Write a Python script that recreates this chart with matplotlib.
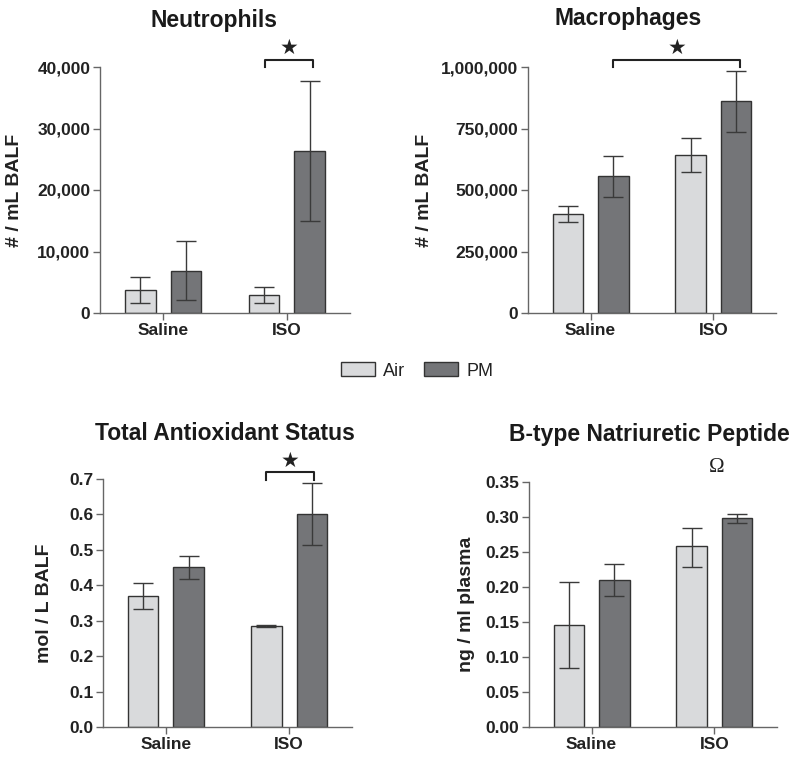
import matplotlib
matplotlib.use("Agg")
import matplotlib.pyplot as plt
from matplotlib.patches import Patch
from matplotlib.ticker import StrMethodFormatter

plt.rcParams['font.family'] = ['Liberation Sans', 'DejaVu Sans']

#------------- DATA -------------#
groups = ["Saline", "ISO"]
series = ["Air", "PM"]

neut_air = [3800, 3000]
neut_air_lo = [1700, 1600]
neut_air_hi = [5800, 4200]
neut_pm = [6900, 26400]
neut_pm_lo = [2100, 15000]
neut_pm_hi = [11700, 37700]

macro_air = [403000, 643000]
macro_air_lo = [370000, 575000]
macro_air_hi = [435000, 710000]
macro_pm = [555000, 860000]
macro_pm_lo = [470000, 735000]
macro_pm_hi = [640000, 985000]

tas_air = [0.370, 0.285]
tas_air_lo = [0.333, 0.283]
tas_air_hi = [0.407, 0.287]
tas_pm = [0.451, 0.602]
tas_pm_lo = [0.418, 0.515]
tas_pm_hi = [0.482, 0.688]

bnp_air = [0.146, 0.258]
bnp_air_lo = [0.085, 0.229]
bnp_air_hi = [0.207, 0.285]
bnp_pm = [0.210, 0.298]
bnp_pm_lo = [0.187, 0.292]
bnp_pm_hi = [0.233, 0.304]

AIR_C = "#d9dadc"
PM_C = "#747578"
EDGE = "#333333"
SPINE = "#666666"

W, H = 800, 760
fig = plt.figure(figsize=(8, 7.6), dpi=100)


def px_axes(left, right, bottom, top):
    return fig.add_axes([left / W, 1 - bottom / H, (right - left) / W, (bottom - top) / H])


def draw_panel(ax, air, air_lo, air_hi, pm, pm_lo, pm_hi, ymax, yticks, fmt, ylabel, labelx):
    x = range(len(groups))
    off, bw = 0.185, 0.25
    for vals, lo, hi, col, sgn in [(air, air_lo, air_hi, AIR_C, -1), (pm, pm_lo, pm_hi, PM_C, 1)]:
        xs = [i + sgn * off for i in x]
        err = [[v - l for v, l in zip(vals, lo)], [h - v for v, h in zip(vals, hi)]]
        ax.bar(xs, vals, width=bw, color=col, edgecolor=EDGE, linewidth=1.0, zorder=2)
        ax.errorbar(xs, vals, yerr=err, fmt='none', ecolor="#3a3a3a", elinewidth=1.0,
                    capsize=7, capthick=1.0, zorder=3)
    ax.set_xlim(-0.51, 1.51)
    ax.set_ylim(0, ymax)
    ax.set_yticks(yticks)
    ax.yaxis.set_major_formatter(StrMethodFormatter(fmt))
    ax.set_xticks(list(x))
    ax.set_xticklabels(groups, fontsize=12.5, fontweight='bold', color="#222222")
    for lab in ax.get_yticklabels():
        lab.set_fontsize(12.5)
        lab.set_fontweight('bold')
        lab.set_color("#222222")
    ax.tick_params(axis='both', direction='out', length=5, width=1, color=SPINE, pad=2)
    for s in ['top', 'right']:
        ax.spines[s].set_visible(False)
    for s in ['left', 'bottom']:
        ax.spines[s].set_color(SPINE)
        ax.spines[s].set_linewidth(1.0)
    ax.set_ylabel(ylabel, fontsize=14, fontweight='bold', color="#222222")
    ax.yaxis.set_label_coords(labelx, 0.5)


def bracket(ax, x0, x1, y, leg, star_y):
    ax.plot([x0, x0, x1, x1], [y - leg, y, y, y - leg], color="#222222", lw=1.5,
            clip_on=False, zorder=4)
    ax.text((x0 + x1) / 2, star_y, "\u2605", ha='center', va='center', fontsize=15,
            family=['DejaVu Sans'], color="#222222", clip_on=False)


ax1 = px_axes(100, 350, 313, 67)
draw_panel(ax1, neut_air, neut_air_lo, neut_air_hi, neut_pm, neut_pm_lo, neut_pm_hi,
           40000, [0, 10000, 20000, 30000, 40000], '{x:,.0f}', "# / mL BALF", -0.308)
bracket(ax1, 0.82, 1.215, 41150, 1100, 43100)

ax2 = px_axes(528, 776, 313, 67)
draw_panel(ax2, macro_air, macro_air_lo, macro_air_hi, macro_pm, macro_pm_lo, macro_pm_hi,
           1000000, [0, 250000, 500000, 750000, 1000000], '{x:,.0f}', "# / mL BALF", -0.385)
bracket(ax2, 0.185, 1.215, 1028000, 28000, 1076000)

ax3 = px_axes(103, 352, 727, 479)
draw_panel(ax3, tas_air, tas_air_lo, tas_air_hi, tas_pm, tas_pm_lo, tas_pm_hi,
           0.7, [0, 0.1, 0.2, 0.3, 0.4, 0.5, 0.6, 0.7], '{x:.1f}', "mol / L BALF", -0.20)
bracket(ax3, 0.815, 1.2, 0.72, 0.022, 0.752)

ax4 = px_axes(529, 777, 727, 482)
draw_panel(ax4, bnp_air, bnp_air_lo, bnp_air_hi, bnp_pm, bnp_pm_lo, bnp_pm_hi,
           0.35, [0, 0.05, 0.10, 0.15, 0.20, 0.25, 0.30, 0.35], '{x:.2f}', "ng / ml plasma", -0.218)
ax4.text(1.02, 0.371, "\u03a9", ha='center', va='center', fontsize=15,
         family=['Liberation Serif'], color="#222222", clip_on=False)

# titles
title_kw = dict(ha='center', va='center', fontsize=16.5, fontweight='bold', color="#1a1a1a")
fig.text(214 / W, 1 - 20 / H, "Neutrophils", **title_kw)
fig.text(628 / W, 1 - 18 / H, "Macrophages", **title_kw)
fig.text(225 / W, 1 - 433 / H, "Total Antioxidant Status", **title_kw)
fig.text(649 / W, 1 - 435 / H, "B-type Natriuretic Peptide", **title_kw)

# legend
handles = [Patch(facecolor=AIR_C, edgecolor=EDGE, linewidth=1.0, label=series[0]),
           Patch(facecolor=PM_C, edgecolor=EDGE, linewidth=1.0, label=series[1])]
fig.legend(handles=handles, loc='center', bbox_to_anchor=(417 / W, 1 - 371 / H), ncol=2,
           frameon=False, fontsize=13, handlelength=1.9, handleheight=0.8,
           handletextpad=0.45, columnspacing=1.0, labelcolor="#222222")

fig.savefig("out.png", dpi=100, facecolor='white')
